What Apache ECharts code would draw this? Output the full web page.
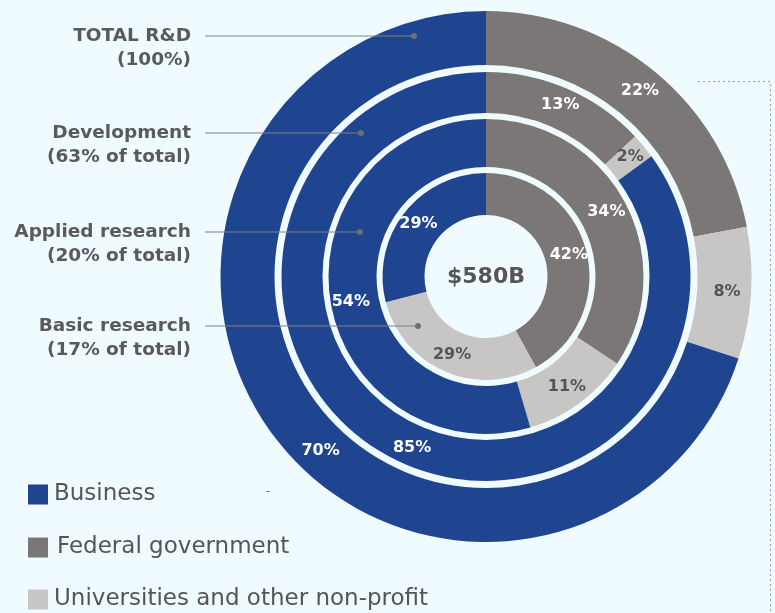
<!DOCTYPE html>
<html>
<head>
<meta charset="utf-8">
<script src="https://cdn.jsdelivr.net/npm/echarts@6/dist/echarts.min.js"></script>
<style>
html,body{margin:0;padding:0;background:#f0fbff;}
#chart{width:775px;height:613px;}
</style>
</head>
<body>
<div id="chart"></div>
<script>
// ---- data ----
const sources = ['Federal government', 'Universities and other non-profit', 'Business'];
const legendOrder = ['Business', 'Federal government', 'Universities and other non-profit'];
const totalRD = [22, 8, 70];
const development = [13, 2, 85];
const appliedResearch = [34, 11, 54];
const basicResearch = [42, 29, 29];
const ringTitles = ['TOTAL R&D', 'Development', 'Applied research', 'Basic research'];
const ringShares = ['(100%)', '(63% of total)', '(20% of total)', '(17% of total)'];
const centerLabel = '$580B';

// ---- style ----
const colors = {
  'Business': '#1f4591',
  'Federal government': '#7b7776',
  'Universities and other non-profit': '#c8c6c4'
};
const labelColors = {
  'Business': '#ffffff',
  'Federal government': '#ffffff',
  'Universities and other non-profit': '#555555'
};
const cx = 486, cy = 276.5;
const rings = [
  {values: totalRD, r: [211.5, 265.5]},
  {values: development, r: [163.5, 204.5]},
  {values: appliedResearch, r: [109.5, 157.5]},
  {values: basicResearch, r: [61.5, 103.5]}
];
// label nudges (series index -> data index -> [dx, dy])
const nudges = {0: {2: [30, 32]}, 1: {2: [11, 5]}, 2: {2: [0, 6]}};

const series = rings.map((ring, si) => ({
  type: 'pie',
  center: [cx, cy],
  radius: ring.r,
  startAngle: 90,
  clockwise: true,
  silent: true,
  animation: false,
  labelLine: {show: false},
  emphasis: {disabled: true},
  label: {
    show: true,
    position: 'inside',
    fontFamily: 'DejaVu Sans',
    fontWeight: 'bold',
    fontSize: 16,
    formatter: p => p.value + '%'
  },
  labelLayout: function (params) {
    const n = nudges[si] && nudges[si][params.dataIndex];
    return n ? {dx: n[0], dy: n[1]} : {};
  },
  data: sources.map((name, i) => ({
    name: name,
    value: ring.values[i],
    itemStyle: {color: colors[name]},
    label: {color: labelColors[name]}
  }))
}));

// annotation graphics
const annY = [36, 133, 232, 326];
const dotX = [414, 361, 360, 418];
const graphics = [];
ringTitles.forEach((t, i) => {
  graphics.push({
    type: 'text', right: 775 - 191, top: annY[i] - 12,
    style: {text: t + '\n' + ringShares[i], fill: '#5a5a5a', font: 'bold 18.5px "DejaVu Sans"',
      textAlign: 'right', lineHeight: 24}
  });
  graphics.push({
    type: 'line', shape: {x1: 205, y1: annY[i], x2: dotX[i], y2: annY[i]},
    style: {stroke: '#808080', lineWidth: 1}, z: 10
  });
  graphics.push({
    type: 'circle', shape: {cx: dotX[i], cy: annY[i], r: 3},
    style: {fill: '#6f6f6f'}, z: 10
  });
});
graphics.push({
  type: 'text', x: cx, y: cy + 1, z: 20,
  style: {text: centerLabel, fill: '#555555', font: 'bold 22px "DejaVu Sans"', align: 'center', verticalAlign: 'middle'}
});
graphics.push({
  type: 'polyline', shape: {points: [[698, 81.5], [770.5, 81.5], [770.5, 613]]},
  style: {stroke: '#9a9a9a', lineWidth: 1, lineDash: [2, 3], fill: null}
});
graphics.push({
  type: 'text', x: 266, y: 486,
  style: {text: '-', fill: '#777', font: '12px "DejaVu Sans"'}
});

const legendCenters = [495, 548, 600];
const legendLefts = [28, 28, 28];
const legends = legendOrder.map((name, i) => ({
  data: [name],
  orient: 'vertical',
  left: legendLefts[i],
  top: legendCenters[i] - 12,
  padding: 0,
  icon: 'rect',
  itemWidth: 20,
  itemHeight: 20,
  selectedMode: false,
  textStyle: {color: '#555555', fontFamily: 'DejaVu Sans', fontSize: 23, padding: [0, 0, 0, i === 1 ? 4 : 1]}
}));

const chart = echarts.init(document.getElementById('chart'), null, {renderer: 'canvas'});
chart.setOption({
  backgroundColor: '#f0fbff',
  animation: false,
  legend: legends,
  series: series,
  graphic: graphics
});
</script>
</body>
</html>
